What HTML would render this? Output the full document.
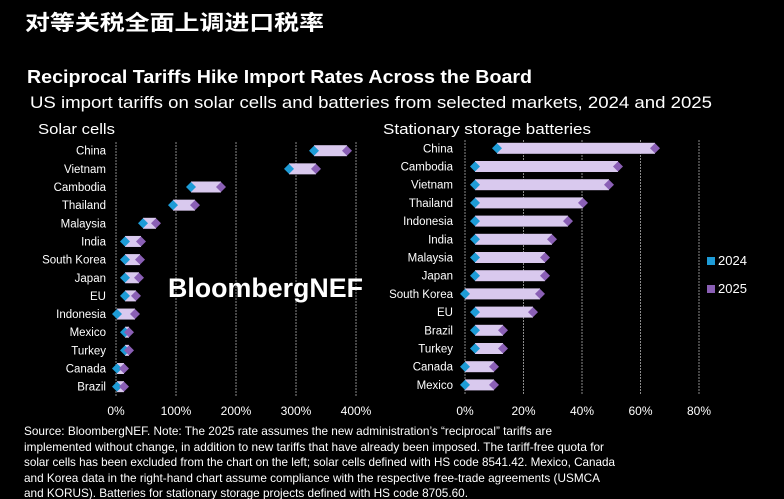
<!DOCTYPE html>
<html><head><meta charset="utf-8"><style>
html,body{margin:0;padding:0;background:#000;}
svg{display:block;}
text{font-family:"Liberation Sans","Noto Sans CJK SC",sans-serif;fill:#fff;}
</style></head><body>
<svg width="784" height="499" viewBox="0 0 784 499" xmlns="http://www.w3.org/2000/svg">
<rect width="784" height="499" fill="#000"/>
<text x="25" y="30" font-size="21" font-weight="bold" textLength="299" lengthAdjust="spacingAndGlyphs">对等关税全面上调进口税率</text>
<text x="27" y="83" font-size="18" font-weight="bold" textLength="505" lengthAdjust="spacingAndGlyphs">Reciprocal Tariffs Hike Import Rates Across the Board</text>
<text x="30" y="108" font-size="17" textLength="682" lengthAdjust="spacingAndGlyphs">US import tariffs on solar cells and batteries from selected markets, 2024 and 2025</text>
<text x="38" y="134" font-size="15" textLength="77" lengthAdjust="spacingAndGlyphs">Solar cells</text>
<text x="383" y="134" font-size="15" textLength="208" lengthAdjust="spacingAndGlyphs">Stationary storage batteries</text>
<g stroke="#8a8a8a" stroke-width="1" stroke-dasharray="2,1">
<line x1="116" y1="142" x2="116" y2="396"/><line x1="176" y1="142" x2="176" y2="396"/><line x1="236" y1="142" x2="236" y2="396"/><line x1="296" y1="142" x2="296" y2="396"/><line x1="356" y1="142" x2="356" y2="396"/>
<line x1="465" y1="140" x2="465" y2="394"/><line x1="523.5" y1="140" x2="523.5" y2="394"/><line x1="582" y1="140" x2="582" y2="394"/><line x1="640.5" y1="140" x2="640.5" y2="394"/><line x1="699" y1="140" x2="699" y2="394"/>
</g>
<g font-size="11" text-anchor="end" id="ll"></g>
<g font-size="12" text-anchor="middle">
<text x="116" y="415">0%</text><text x="176" y="415">100%</text><text x="236" y="415">200%</text><text x="296" y="415">300%</text><text x="356" y="415">400%</text>
<text x="465" y="415">0%</text><text x="523.5" y="415">20%</text><text x="582" y="415">40%</text><text x="640.5" y="415">60%</text><text x="699" y="415">80%</text>
</g>
<g id="bars"></g>
<rect x="707" y="257" width="8" height="8" fill="#1d9bd6"/><text x="718" y="265" font-size="13">2024</text>
<rect x="707" y="285" width="8" height="8" fill="#8a5fb5"/><text x="718" y="293" font-size="13">2025</text>
<text x="168" y="297" font-size="27" font-weight="bold" textLength="195" lengthAdjust="spacingAndGlyphs">BloombergNEF</text>
<g font-size="12">
<text x="24" y="435" textLength="528" lengthAdjust="spacingAndGlyphs">Source: BloombergNEF. Note: The 2025 rate assumes the new administration’s “reciprocal” tariffs are</text>
<text x="24" y="451" textLength="580" lengthAdjust="spacingAndGlyphs">implemented without change, in addition to new tariffs that have already been imposed. The tariff-free quota for</text>
<text x="24" y="466" textLength="591" lengthAdjust="spacingAndGlyphs">solar cells has been excluded from the chart on the left; solar cells defined with HS code 8541.42. Mexico, Canada</text>
<text x="24" y="482" textLength="576" lengthAdjust="spacingAndGlyphs">and Korea data in the right-hand chart assume compliance with the respective free-trade agreements (USMCA</text>
<text x="24" y="497" textLength="444" lengthAdjust="spacingAndGlyphs">and KORUS). Batteries for stationary storage projects defined with HS code 8705.60.</text>
</g>
</svg>
<script>
const NS="http://www.w3.org/2000/svg";
const bars=document.getElementById('bars'), ll=document.getElementById('ll');
function el(t,a,p){const e=document.createElementNS(NS,t);for(const k in a)e.setAttribute(k,a[k]);(p||bars).appendChild(e);return e;}
function dia(x,y,c){el('polygon',{points:`${x},${y-5} ${x+5},${y} ${x},${y+5} ${x-5},${y}`,fill:c});}
function chart(rows,y0,dy,lx){rows.forEach((r,i)=>{const y=y0+i*dy;
 el('rect',{x:r[1],y:y-5.5,width:r[2]-r[1],height:11,fill:'#d9c9ee'});
 dia(r[1],y,'#1d9bd6');dia(r[2],y,'#8a5fb5');
 const t=el('text',{x:lx,y:y+4,'font-size':11.5,'text-anchor':'end'},ll);t.textContent=r[0];});}
chart([["China",314,347],["Vietnam",289,316],["Cambodia",191,221],["Thailand",173,195],["Malaysia",143,156],["India",125,141],["South Korea",125,140],["Japan",125,139],["EU",125,136],["Indonesia",117,135],["Mexico",125,129],["Turkey",125,129],["Canada",117,124],["Brazil",117,124]],150.7,18.15,106);
chart([["China",497,655],["Cambodia",475,618],["Vietnam",475,609],["Thailand",475,583],["Indonesia",475,568],["India",475,552],["Malaysia",475,545],["Japan",475,545],["South Korea",465,540],["EU",475,533],["Brazil",475,503],["Turkey",475,503],["Canada",465,494],["Mexico",465,494]],148.3,18.2,453);
</script>
</body></html>
